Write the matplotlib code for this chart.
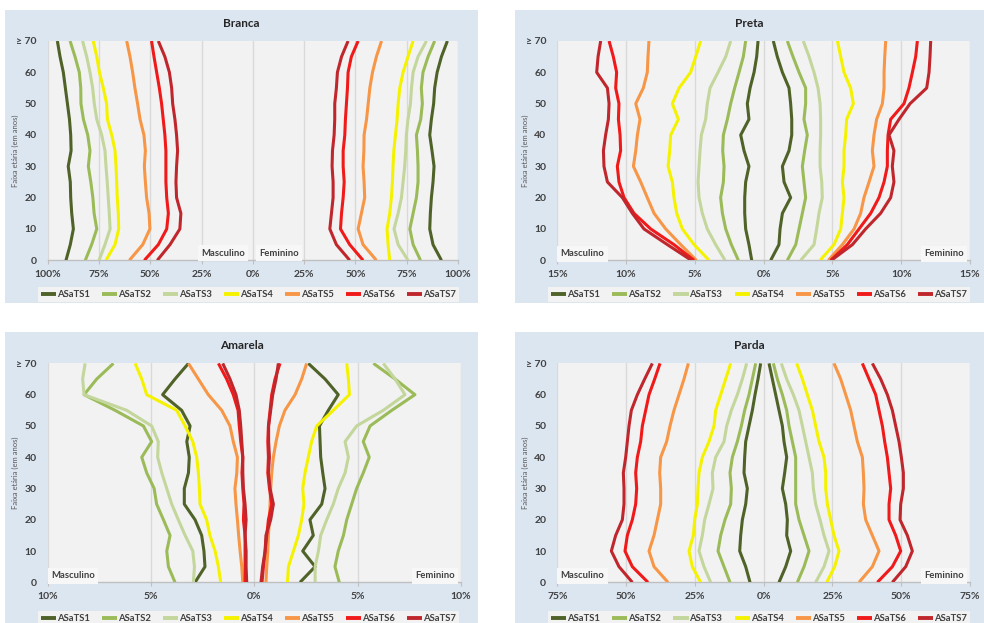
"""
Cumulative ASaTS curves by age and sex, four panels (Branca, Preta, Amarela, Parda).
"""

import matplotlib
matplotlib.use('Agg')
import matplotlib.pyplot as plt
from matplotlib.patches import Rectangle
from matplotlib.ticker import FuncFormatter

plt.rcParams['font.family'] = ['Lato', 'DejaVu Sans']

ages = [0, 5, 10, 15, 20, 25, 30, 35, 40, 45, 50, 55, 60, 65, 70]
age_labels = ['0', '10', '20', '30', '40', '50', '60', '\u2265 70']
series_names = ['ASaTS1', 'ASaTS2', 'ASaTS3', 'ASaTS4', 'ASaTS5', 'ASaTS6', 'ASaTS7']
colors = ['#4F6228', '#9BBB59', '#C3D69B', '#F5F200', '#F79646', '#F01A1A', '#C0272D']

# values in percent, male side stored as positive and drawn to the left
branca_masc = [
    [91.1, 89.0, 87.5, 88.3, 88.8, 89.0, 90.0, 88.6, 88.8, 89.4, 90.4, 91.4, 92.4, 94.0, 95.3],
    [81.7, 78.6, 76.1, 77.4, 78.0, 79.0, 80.2, 79.4, 80.5, 82.6, 83.8, 83.9, 84.6, 86.7, 89.1],
    [75.0, 72.1, 69.6, 70.0, 70.5, 71.0, 71.6, 72.1, 73.7, 76.1, 77.3, 78.1, 79.4, 81.0, 83.0],
    [71.6, 67.2, 65.4, 65.6, 66.1, 66.4, 66.7, 67.2, 68.8, 70.9, 71.3, 72.9, 74.8, 76.1, 77.8],
    [60.2, 53.7, 50.2, 50.6, 51.8, 52.4, 52.9, 52.4, 53.1, 55.0, 56.2, 57.5, 58.6, 59.9, 61.5],
    [52.9, 46.1, 42.0, 41.2, 42.0, 42.4, 42.4, 42.4, 42.9, 43.7, 44.5, 45.6, 46.9, 48.2, 49.4],
    [46.6, 40.4, 35.6, 35.1, 37.2, 37.5, 37.2, 36.7, 37.2, 38.0, 39.1, 39.6, 40.7, 42.9, 46.1],
]
branca_fem = [
    [91.9, 87.8, 86.2, 86.5, 87.0, 87.8, 88.3, 87.3, 86.2, 87.0, 88.1, 88.6, 89.8, 91.9, 94.8],
    [81.7, 78.1, 76.5, 78.1, 79.7, 80.5, 80.5, 80.2, 79.7, 81.8, 82.6, 82.1, 82.9, 85.4, 88.6],
    [75.6, 70.8, 68.8, 70.8, 72.4, 73.2, 74.0, 74.5, 74.8, 75.6, 76.8, 77.3, 78.1, 80.5, 84.6],
    [66.7, 65.9, 65.4, 66.7, 67.5, 68.0, 68.3, 68.7, 69.5, 70.3, 70.8, 71.6, 73.2, 75.6, 78.1],
    [60.2, 53.7, 51.3, 52.9, 54.5, 54.2, 53.7, 54.1, 54.2, 55.4, 56.2, 57.0, 58.3, 60.2, 62.7],
    [53.7, 47.2, 42.7, 43.2, 44.0, 44.5, 44.0, 44.0, 44.8, 45.1, 45.6, 46.1, 46.4, 48.0, 51.3],
    [47.2, 40.7, 37.5, 38.3, 39.1, 39.1, 38.6, 38.8, 39.6, 39.9, 39.9, 40.7, 41.2, 43.2, 46.4],
]

preta_masc = [
    [0.87, 1.07, 1.31, 1.38, 1.38, 1.31, 1.07, 1.43, 1.67, 1.07, 1.19, 0.99, 0.70, 0.51, 0.41],
    [1.84, 2.35, 2.76, 3.00, 3.13, 2.93, 2.88, 2.98, 2.93, 2.64, 2.40, 2.11, 1.79, 1.48, 1.31],
    [2.81, 3.49, 4.10, 4.46, 4.70, 4.77, 4.70, 4.63, 4.53, 4.22, 4.10, 3.90, 3.32, 2.76, 2.40],
    [3.97, 5.06, 5.91, 6.32, 6.52, 6.64, 6.95, 6.83, 6.76, 6.20, 6.64, 6.15, 5.31, 4.94, 4.58],
    [4.89, 6.03, 7.12, 7.97, 8.46, 8.94, 9.47, 9.30, 9.18, 8.99, 9.30, 8.75, 8.46, 8.41, 8.34],
    [5.06, 6.52, 8.21, 9.43, 10.15, 10.52, 10.64, 10.40, 10.44, 10.56, 10.52, 10.76, 10.69, 10.93, 11.24],
    [5.26, 7.00, 8.70, 9.55, 10.27, 11.36, 11.61, 11.65, 11.49, 11.29, 11.24, 11.36, 12.14, 12.04, 11.85],
]
preta_fem = [
    [0.51, 1.11, 1.19, 1.36, 1.96, 1.48, 1.36, 1.84, 2.04, 2.04, 1.96, 1.84, 1.36, 0.99, 0.70],
    [1.72, 2.33, 2.57, 2.81, 3.05, 2.93, 2.81, 2.98, 3.17, 2.93, 3.05, 3.05, 2.57, 2.13, 1.72],
    [2.69, 3.66, 3.85, 4.02, 4.26, 4.22, 4.10, 4.10, 4.14, 4.14, 4.10, 3.95, 3.66, 3.30, 2.88],
    [4.10, 5.11, 5.60, 5.72, 5.84, 5.72, 5.84, 5.84, 5.96, 6.03, 6.52, 6.32, 5.84, 5.60, 5.36],
    [4.70, 5.72, 6.57, 7.05, 7.29, 7.66, 8.02, 7.90, 8.02, 8.21, 8.63, 8.75, 8.75, 8.80, 8.87],
    [4.87, 6.08, 6.93, 7.78, 8.38, 8.75, 8.99, 8.99, 9.04, 9.23, 10.20, 10.56, 10.81, 11.05, 11.17],
    [4.92, 6.45, 7.41, 8.50, 9.23, 9.47, 9.35, 9.47, 9.11, 9.84, 10.64, 11.85, 12.02, 12.09, 12.14],
]

amarela_masc = [
    [2.87, 2.39, 2.44, 2.55, 2.87, 3.39, 3.39, 3.19, 3.15, 3.27, 3.11, 3.52, 4.44, 3.84, 3.19],
    [3.84, 4.16, 4.24, 4.08, 4.40, 4.73, 4.85, 5.21, 5.45, 4.97, 5.37, 6.74, 8.24, 7.63, 6.82],
    [2.95, 2.90, 2.98, 3.35, 3.68, 4.00, 4.24, 4.48, 4.68, 4.65, 4.97, 6.18, 8.24, 8.31, 8.19],
    [1.63, 1.74, 1.90, 2.15, 2.31, 2.63, 2.66, 2.71, 2.79, 2.98, 3.35, 3.76, 5.21, 5.45, 5.77],
    [0.56, 0.61, 0.69, 0.76, 0.82, 0.89, 0.94, 0.85, 0.82, 1.02, 1.18, 1.58, 2.23, 2.71, 3.19],
    [0.45, 0.45, 0.45, 0.45, 0.53, 0.50, 0.56, 0.60, 0.56, 0.66, 0.73, 0.79, 1.02, 1.34, 1.74],
    [0.37, 0.40, 0.40, 0.45, 0.40, 0.45, 0.53, 0.56, 0.56, 0.61, 0.66, 0.73, 0.89, 1.18, 1.53],
]
amarela_fem = [
    [2.21, 2.94, 2.34, 2.85, 2.69, 3.26, 3.42, 3.31, 3.21, 3.18, 3.15, 3.58, 4.06, 3.42, 2.61],
    [4.11, 3.90, 4.06, 4.31, 4.47, 4.71, 4.95, 5.27, 5.56, 5.27, 5.60, 6.65, 7.77, 6.81, 5.76],
    [2.94, 2.94, 3.10, 3.21, 3.50, 3.82, 4.06, 4.39, 4.55, 4.39, 4.95, 6.24, 7.29, 6.81, 6.24],
    [1.60, 1.65, 1.89, 2.13, 2.29, 2.40, 2.34, 2.45, 2.61, 2.77, 3.02, 3.82, 4.60, 4.55, 4.47],
    [0.56, 0.60, 0.65, 0.68, 0.73, 0.76, 0.79, 0.84, 0.92, 1.05, 1.21, 1.48, 1.97, 2.29, 2.53],
    [0.37, 0.44, 0.52, 0.60, 0.68, 0.84, 0.73, 0.65, 0.68, 0.65, 0.68, 0.76, 0.84, 1.00, 1.24],
    [0.32, 0.40, 0.52, 0.56, 0.79, 0.92, 0.76, 0.68, 0.73, 0.69, 0.69, 0.79, 0.89, 1.05, 1.16],
]

parda_masc = [
    [4.97, 6.54, 8.72, 8.36, 7.75, 6.54, 5.94, 7.15, 6.91, 6.54, 5.33, 4.12, 3.15, 2.06, 1.09],
    [12.24, 14.42, 16.60, 15.63, 14.06, 12.00, 11.75, 12.24, 11.39, 9.57, 8.12, 6.91, 5.33, 4.12, 2.91],
    [19.27, 21.69, 23.51, 22.30, 21.45, 19.87, 18.42, 18.66, 17.45, 14.42, 13.45, 11.75, 9.57, 7.75, 6.18],
    [22.90, 25.93, 27.14, 25.57, 25.08, 24.11, 23.87, 23.51, 22.30, 19.87, 18.05, 17.45, 15.63, 13.81, 12.00],
    [34.78, 39.86, 41.68, 39.86, 38.65, 37.44, 37.44, 37.80, 37.44, 35.26, 34.05, 32.60, 30.78, 28.96, 27.38],
    [42.05, 47.74, 50.41, 49.56, 47.74, 46.53, 46.16, 46.53, 45.92, 44.71, 44.10, 42.89, 41.68, 39.62, 37.68],
    [47.74, 52.59, 55.37, 53.80, 51.37, 50.77, 50.77, 51.01, 50.16, 49.56, 48.95, 48.10, 45.92, 43.26, 40.47],
]
parda_fem = [
    [5.57, 8.00, 9.81, 8.36, 8.60, 8.00, 6.79, 7.63, 8.36, 7.39, 6.79, 5.57, 4.36, 3.15, 1.94],
    [12.24, 14.66, 16.48, 14.66, 12.84, 11.63, 11.63, 11.63, 11.63, 10.42, 9.21, 8.36, 6.79, 4.97, 3.51],
    [18.90, 21.93, 23.75, 21.93, 20.48, 18.90, 18.05, 17.69, 16.48, 15.27, 14.06, 12.84, 10.78, 8.36, 6.42],
    [22.90, 25.81, 27.38, 25.57, 24.35, 23.14, 22.54, 22.54, 21.93, 20.11, 18.90, 17.69, 15.87, 14.06, 12.00],
    [34.65, 39.50, 41.92, 39.50, 37.08, 36.23, 36.47, 36.23, 35.87, 34.05, 32.84, 31.62, 29.81, 27.99, 25.57],
    [41.32, 46.77, 49.80, 47.98, 45.56, 45.56, 46.16, 45.56, 44.95, 43.98, 43.14, 41.92, 40.71, 38.29, 35.87],
    [46.77, 51.62, 54.04, 52.22, 49.56, 49.80, 50.77, 50.77, 50.04, 49.19, 47.98, 46.77, 44.95, 42.53, 39.50],
]

panel_bg = '#DCE6F1'
plot_bg = '#F2F2F2'
grid_col = '#D9D9D9'

fig = plt.figure(figsize=(9.84, 6.23), dpi=100)

# title, male, female, x limit, tick step, axes rect, background rect, legend rect,
# title y, ylabel x, label style
panels = [
    ('Branca', branca_masc, branca_fem, 100, 25,
     [0.0485, 0.5822, 0.4170, 0.352], [0.0051, 0.5136, 0.4807, 0.4703],
     [0.0386, 0.5153, 0.4279, 0.0241], 0.963, 0.0152, 'center'),
    ('Preta', preta_masc, preta_fem, 15, 5,
     [0.5664, 0.5822, 0.4194, 0.352], [0.5234, 0.5136, 0.4766, 0.4703],
     [0.5569, 0.5153, 0.4289, 0.0241], 0.963, 0.5343, 'corner'),
    ('Amarela', amarela_masc, amarela_fem, 10, 5,
     [0.0485, 0.0653, 0.4200, 0.3514], [0.0051, 0.0, 0.4807, 0.4671],
     [0.0386, -0.0050, 0.4279, 0.0241], 0.4462, 0.0152, 'corner'),
    ('Parda', parda_masc, parda_fem, 75, 25,
     [0.5664, 0.0653, 0.4194, 0.3514], [0.5234, 0.0, 0.4766, 0.4671],
     [0.5569, -0.0050, 0.4289, 0.0241], 0.4462, 0.5343, 'corner'),
]

pct = FuncFormatter(lambda v, p: '{:.0f}%'.format(abs(v)))

for (title, masc, fem, lim, step, rect, bg, leg_rect,
     title_y, ylab_x, label_style) in panels:

    # light blue card behind each chart
    fig.patches.append(Rectangle((bg[0], bg[1]), bg[2], bg[3],
                                 transform=fig.transFigure, facecolor=panel_bg,
                                 edgecolor='none', zorder=-5))

    ax = fig.add_axes(rect)
    ax.set_facecolor(plot_bg)

    lines = []
    for k in range(7):
        ln, = ax.plot([-v for v in masc[k]], ages, color=colors[k], lw=2.2,
                      solid_joinstyle='round', solid_capstyle='butt', zorder=3)
        ax.plot(fem[k], ages, color=colors[k], lw=2.2,
                solid_joinstyle='round', solid_capstyle='butt', zorder=3)
        lines.append(ln)

    ax.set_xlim(-lim, lim)
    ax.set_ylim(0, 70)
    ticks = list(range(-lim, lim + 1, step))
    ax.set_xticks(ticks)
    ax.xaxis.set_major_formatter(pct)
    ax.set_yticks(range(0, 71, 10))
    ax.set_yticklabels(age_labels)

    ax.grid(axis='x', color=grid_col, lw=1.0, zorder=1)
    ax.set_axisbelow(True)
    for side in ['top', 'right', 'left']:
        ax.spines[side].set_visible(False)
    ax.spines['bottom'].set_color('#BFBFBF')
    ax.spines['bottom'].set_linewidth(1.0)
    ax.tick_params(axis='x', length=3, color='#BFBFBF', pad=4,
                   labelsize=7.5, labelcolor='#404040')
    ax.tick_params(axis='y', length=0, pad=8, labelsize=7.5, labelcolor='#404040')
    for lab in ax.get_xticklabels() + ax.get_yticklabels():
        lab.set_fontweight('bold')

    cx = bg[0] + bg[2] / 2
    fig.text(cx, title_y, title, ha='center', va='center', fontsize=8.5,
             fontweight='bold', color='#262626')
    fig.text(ylab_x, rect[1] + rect[3] / 2, 'Faixa et\u00e1ria (em anos)',
             rotation=90, ha='center', va='center', fontsize=5.5, color='#595959')

    # sex labels
    box = dict(facecolor='#F7F7F7', edgecolor='none', pad=2.5)
    if label_style == 'center':
        ax.text(-14.6, 2.3, 'Masculino', ha='center', va='center', fontsize=6.8,
                fontweight='bold', color='#404040', bbox=box, zorder=4)
        ax.text(12.7, 2.3, 'Feminino', ha='center', va='center', fontsize=6.8,
                fontweight='bold', color='#404040', bbox=box, zorder=4)
    else:
        ax.text(0.008, 0.03, 'Masculino', transform=ax.transAxes, ha='left',
                va='center', fontsize=6.8, fontweight='bold', color='#404040',
                bbox=box, zorder=4)
        ax.text(0.985, 0.03, 'Feminino', transform=ax.transAxes, ha='right',
                va='center', fontsize=6.8, fontweight='bold', color='#404040',
                bbox=box, zorder=4)

    leg = ax.legend(lines, series_names, ncol=7, loc='center', mode='expand',
                    bbox_to_anchor=leg_rect, bbox_transform=fig.transFigure,
                    frameon=True, fancybox=False, borderaxespad=0, borderpad=0.35,
                    handlelength=1.6, handletextpad=0.1, columnspacing=0.5,
                    prop={'size': 6.8, 'weight': 'bold'})
    leg.get_frame().set_facecolor(plot_bg)
    leg.get_frame().set_edgecolor('none')
    leg.get_frame().set_alpha(1)
    for t in leg.get_texts():
        t.set_color('#404040')
    for h in leg.get_lines():
        h.set_linewidth(2.8)

fig.savefig('out.png', dpi=100, facecolor='white')
